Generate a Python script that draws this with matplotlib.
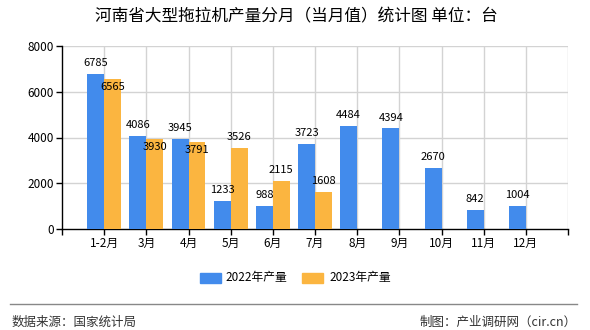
import matplotlib
matplotlib.use("Agg")
import matplotlib.pyplot as plt
import numpy as np
from matplotlib.patches import Rectangle
from matplotlib.lines import Line2D

plt.rcParams['font.family'] = ['Noto Sans CJK SC', 'DejaVu Sans']

months = ["1-2月", "3月", "4月", "5月", "6月", "7月", "8月", "9月", "10月", "11月", "12月"]
prod_2022 = [6785, 4086, 3945, 1233, 988, 3723, 4484, 4394, 2670, 842, 1004]
prod_2023 = [6565, 3930, 3791, 3526, 2115, 1608]

blue = "#428BEC"
orange = "#FBB540"

fig = plt.figure(figsize=(5.9, 3.3), dpi=100)
ax = fig.add_axes([62 / 590, 1 - 229 / 330, 506 / 590, 183 / 330])

x = np.arange(len(months))
w = 0.4
ax.bar(x - w / 2, prod_2022, width=w, color=blue, zorder=3)
ax.bar(x[:len(prod_2023)] + w / 2, prod_2023, width=w, color=orange, zorder=3)

# value labels
for i, v in enumerate(prod_2022):
    ax.text(i - w / 2, v + 260, str(v), ha="center", va="bottom", fontsize=8, zorder=4)
for i, v in enumerate(prod_2023):
    if abs(v - prod_2022[i]) < 600:
        # would clash with the 2022 label, so put it just under the bar top
        ax.text(i + w / 2, v - 350, str(v), ha="center", va="center", fontsize=8, zorder=4)
    else:
        ax.text(i + w / 2, v + 260, str(v), ha="center", va="bottom", fontsize=8, zorder=4)

ax.set_xlim(-1, 11)
ax.set_ylim(0, 8000)
ax.set_xticks(np.arange(-1, 12))
ax.set_xticklabels([""] + months + [""], fontsize=8.5)
ax.set_yticks([0, 2000, 4000, 6000, 8000])
ax.set_yticklabels(["0", "2000", "4000", "6000", "8000"], fontsize=8.5)
ax.tick_params(axis="both", length=4, width=1, color="black", pad=2)

for xv in range(0, 12):
    ax.axvline(xv, color="#d3d3d3", lw=1, zorder=1)
for yv in [2000, 4000, 6000, 8000]:
    ax.axhline(yv, color="#d3d3d3", lw=1, zorder=1)

for s in ["top", "right"]:
    ax.spines[s].set_visible(False)
ax.spines["left"].set_linewidth(1)
ax.spines["bottom"].set_linewidth(1)

fig.text(296 / 590, 1 - 17 / 330, "河南省大型拖拉机产量分月（当月值）统计图 单位：台",
         ha="center", va="center", fontsize=12)

# legend
fig.patches.append(Rectangle((200 / 590, 1 - 283 / 330), 21 / 590, 10 / 330,
                             transform=fig.transFigure, color=blue))
fig.text(225 / 590, 1 - 278 / 330, "2022年产量", ha="left", va="center", fontsize=8.5)
fig.patches.append(Rectangle((302 / 590, 1 - 283 / 330), 21 / 590, 10 / 330,
                             transform=fig.transFigure, color=orange))
fig.text(329 / 590, 1 - 278 / 330, "2023年产量", ha="left", va="center", fontsize=8.5)

# footer
fig.lines.append(Line2D([10 / 590, 577 / 590], [1 - 304 / 330, 1 - 304 / 330],
                        transform=fig.transFigure, color="#888888", lw=1))
fig.text(12 / 590, 1 - 322 / 330, "数据来源：国家统计局", ha="left", va="center",
         fontsize=9, color="#333333")
fig.text(577 / 590, 1 - 322 / 330, "制图：产业调研网（cir.cn）", ha="right", va="center",
         fontsize=9, color="#333333")

fig.savefig("out.png", dpi=100)
